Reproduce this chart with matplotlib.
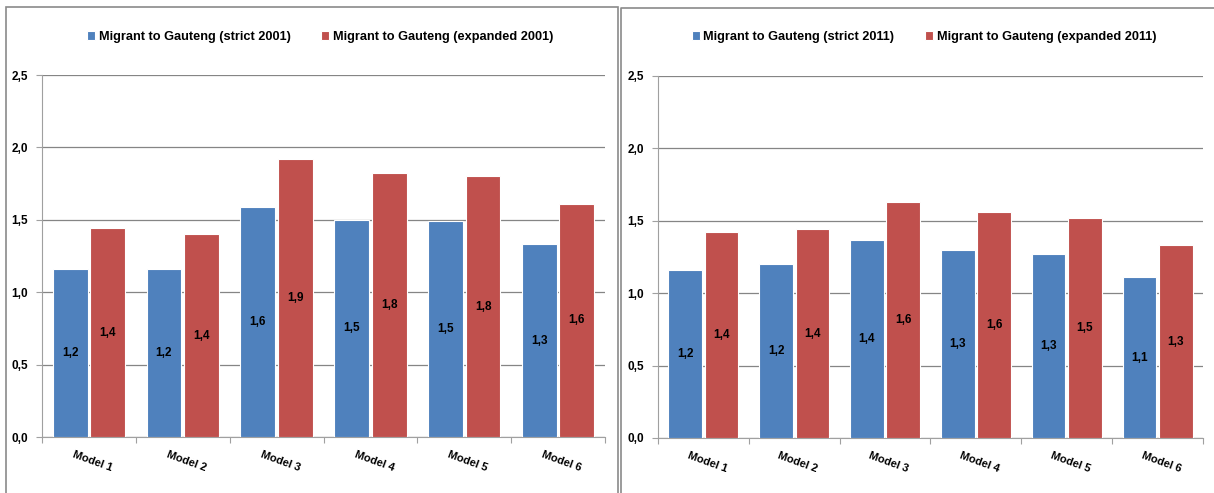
import matplotlib.pyplot as plt
from matplotlib.patches import Rectangle
from matplotlib.lines import Line2D
import numpy as np

plt.rcParams['font.family'] = ['Liberation Sans', 'DejaVu Sans']

models = ['Model 1', 'Model 2', 'Model 3', 'Model 4', 'Model 5', 'Model 6']

strict_2001 = [1.16, 1.16, 1.59, 1.50, 1.49, 1.33]
expanded_2001 = [1.44, 1.40, 1.92, 1.82, 1.80, 1.61]

strict_2011 = [1.16, 1.20, 1.37, 1.30, 1.27, 1.11]
expanded_2011 = [1.42, 1.44, 1.63, 1.56, 1.52, 1.33]

yticks = [0.0, 0.5, 1.0, 1.5, 2.0, 2.5]

BLUE = '#4F81BD'
RED = '#C0504D'


def comma(v):
    return ('%.1f' % v).replace('.', ',')


def draw_panel(ax, s1, s2, lab1, lab2, legend_x):
    x = np.arange(len(models))
    w = 0.37
    b1 = ax.bar(x - 0.2, s1, w, color=BLUE, edgecolor='white', linewidth=0.8, label=lab1, zorder=3)
    b2 = ax.bar(x + 0.2, s2, w, color=RED, edgecolor='white', linewidth=0.8, label=lab2, zorder=3)
    for bars in (b1, b2):
        for r in bars:
            h = r.get_height()
            ax.text(r.get_x() + r.get_width() / 2, h / 2, comma(h), ha='center', va='center',
                    fontsize=8.5, fontweight='bold', color='black', zorder=4)
    ax.set_xlim(-0.5, len(models) - 0.5)
    ax.set_ylim(0, 2.5)
    ax.set_yticks(yticks)
    ax.set_yticklabels([comma(t) for t in yticks], fontsize=8.5, fontweight='bold')
    ax.yaxis.grid(True, color='#858585', linewidth=0.9, zorder=0)
    ax.set_xticks(np.arange(len(models) + 1) - 0.5)
    ax.set_xticklabels([])
    ax.tick_params(axis='x', length=4, color='#a0a0a0', direction='out')
    ax.tick_params(axis='y', length=4, color='#a0a0a0', direction='out', pad=6)
    for i, m in enumerate(models):
        ax.text(i + 0.04, -0.165, m, rotation=-20, ha='center', va='center',
                fontsize=8, fontweight='bold', transform=ax.transData)
    for s in ('top', 'right'):
        ax.spines[s].set_visible(False)
    ax.spines['left'].set_color('#a0a0a0')
    ax.spines['bottom'].set_color('#a0a0a0')
    ax.set_axisbelow(True)
    leg = ax.figure.legend(handles=[b1, b2], loc='center', bbox_to_anchor=(legend_x, 0.925),
                           ncol=2, frameon=False, handlelength=0.6, handleheight=0.6,
                           handletextpad=0.3, columnspacing=2.4,
                           prop={'weight': 'bold', 'size': 9.2})
    return leg


fig = plt.figure(figsize=(12.14, 4.93), dpi=100)
W, H = 1214.0, 493.0

# panel frames
fig.patches.append(Rectangle((6 / W, -0.01), 612 / W, 1 - 7 / H + 0.01, transform=fig.transFigure,
                             fill=False, edgecolor='#8a8a8a', linewidth=1.2))
fig.lines.append(Line2D([621 / W, 621 / W, 1.0], [0.0, 1 - 8 / H, 1 - 8 / H],
                        transform=fig.transFigure, color='#8a8a8a', linewidth=1.2))

ax1 = fig.add_axes([42 / W, 1 - 437 / H, 563 / W, 362 / H])
ax2 = fig.add_axes([658 / W, 1 - 438 / H, 545 / W, 362 / H])

draw_panel(ax1, strict_2001, expanded_2001,
           'Migrant to Gauteng (strict 2001)', 'Migrant to Gauteng (expanded 2001)', 320 / W)
draw_panel(ax2, strict_2011, expanded_2011,
           'Migrant to Gauteng (strict 2011)', 'Migrant to Gauteng (expanded 2011)', 924 / W)

fig.savefig('out.png', dpi=100)
